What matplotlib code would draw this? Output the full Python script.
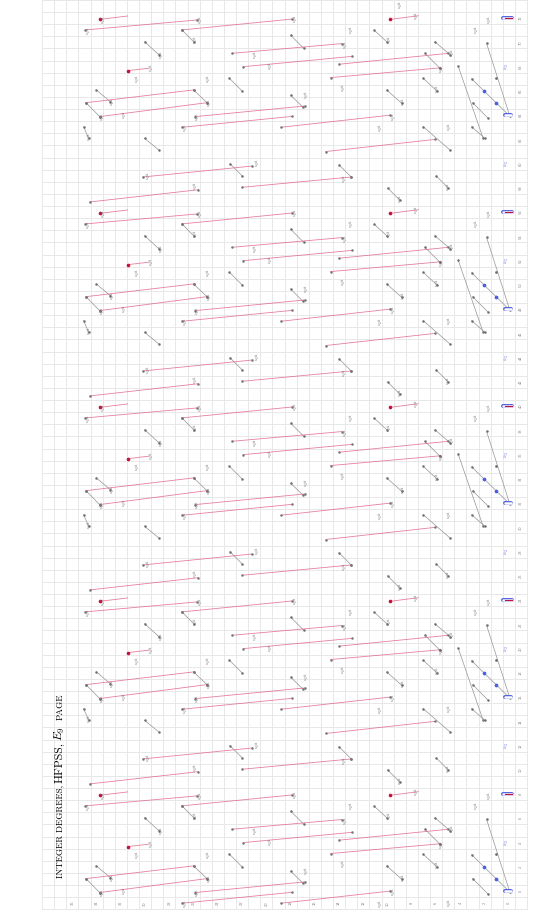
import matplotlib.pyplot as plt
import numpy as np

plt.rcParams['mathtext.fontset'] = 'cm'

# chart is drawn rotated: filtration s runs to the left, stem t-s runs upward
s_ticks = list(range(0, 37, 2))
stem_ticks = list(range(0, 73, 2))

# the picture repeats with period 16 in the stem; one block is read off,
# r = stem - base, and placed at each base stem
block_bases = [0, 16, 32, 48, 64]

# red d9 differentials in one block: (s_left, r_left, s_right, r_right)
red_d9 = [
    (34.93, 7.03, 25.73, 7.85),
    (26.96, 7.03, 17.87, 7.93),
    (22.84, 5.10, 13.80, 5.90),
    (21.90, 4.00, 12.90, 4.85),
    (34.87, 1.03, 26.00, 2.08),
    (33.75, -0.12, 24.90, 1.03),
    (25.87, -0.12, 16.80, 0.76),
    (26.96, -1.00, 17.87, -0.10),
    (14.00, 4.20, 5.00, 5.10),
    (14.70, 3.10, 5.70, 3.90),
    (18.80, -1.00, 9.80, 0.00),
    (15.10, -3.00, 6.10, -2.00),
    (34.57, 8.84, 25.60, 9.85),
    (30.20, 10.90, 21.20, 11.80),
    (22.00, 10.05, 13.00, 10.90),
]

# short red strokes, dotted at the left end
red_stub = [
    (33.75, 7.90, 31.44, 8.18),
    (31.44, 3.67, 29.71, 3.87),
    (9.80, 7.90, 7.47, 8.20),
]

# gray multiplication lines (eta, nu)
gray = [
    (30.04, 6.06, 28.87, 4.99),
    (26.96, 7.03, 26.00, 6.06),
    (23.04, 3.04, 22.00, 2.00),
    (34.02, 2.08, 32.87, 1.11),
    (34.87, 1.03, 33.75, -0.12),
    (26.00, 2.08, 24.90, 1.03),
    (35.07, -0.95, 34.66, -1.90),
    (30.04, -1.91, 28.87, -2.87),
    (18.00, 6.60, 16.90, 5.50),
    (18.00, 1.65, 16.97, 0.65),
    (11.10, 7.00, 10.07, 6.06),
    (6.10, 6.06, 4.86, 4.99),
    (6.92, 5.10, 5.68, 3.87),
    (7.06, 3.04, 5.96, 2.02),
    (10.07, 2.08, 8.84, 0.98),
    (7.06, -0.95, 4.86, -2.87),
    (4.18, 4.05, 2.12, -1.91),
    (1.84, 5.93, -0.08, -0.08),
    (3.07, 3.00, 0.00, 0.00),
    (2.99, 1.03, 1.70, -0.26),
    (3.07, -0.95, 1.98, -1.91),
    (23.00, 12.00, 22.00, 11.00),
    (14.00, 11.90, 13.00, 10.90),
    (10.00, 10.00, 9.00, 9.00),
    (6.00, 11.00, 5.00, 10.00),
]
gray_dots = [(1.05, 3.04)]
blue_dots = [(2.03, 2.02), (1.05, 1.03)]

# small class labels
labels = [
    (33.7, 7.9), (25.7, 7.85), (34.9, 7.0), (26.1, 6.25), (28.9, 5.0),
    (29.7, 3.9), (30.9, 3.0), (25.0, 3.0), (32.9, 1.1), (31.9, 0.04),
    (24.9, 1.03), (33.75, -0.12), (25.9, -0.12), (26.9, -1.0), (34.8, -1.77),
    (1.84, 7.9), (2.94, 7.03), (4.86, 5.13), (5.77, 3.87), (6.1, 2.2),
    (8.92, 1.1), (9.74, -0.07), (5.13, -0.95), (7.88, 8.2), (10.07, 6.2),
    (13.2, 7.03), (17.8, 8.0), (21.1, 5.0), (19.9, 4.06), (16.9, 1.7),
    (13.7, 5.8), (10.8, -1.0), (13.9, 2.25),
    (26.1, 10.2), (30.0, 11.0), (13.8, 10.8), (21.0, 12.1), (9.2, 9.1), (5.2, 10.1),
]

# filtration-zero classes: r of red/blue bar, blue bar, blue labels
red_blue_r = [8]
blue_bar_r = [0]
blue_label_r = [4, 12]

RED = '#e0557f'
GRAY = '#959595'
BLUE = '#4c5fe0'

fig = plt.figure(figsize=(5.58, 9.22), dpi=100)
ax = fig.add_axes([0.0753, 0.0138, 0.8692, 0.9862])

ax.set_xlim(38.5, -1.5)
ax.set_ylim(-1.5, 73.5)
ax.set_xticks(np.arange(-1.5, 39, 1))
ax.set_yticks(np.arange(-1.5, 74, 1))
ax.tick_params(length=0, labelbottom=False, labelleft=False)
ax.grid(True, color='#e8e8e8', lw=0.7)
for sp in ax.spines.values():
    sp.set_color('#e8e8e8')
    sp.set_linewidth(0.7)
ax.set_axisbelow(True)

for s in s_ticks:
    ax.text(s, -1, str(s), rotation=90, fontsize=2.6, color='#888888', ha='center', va='center')
for n in stem_ticks:
    ax.text(-1, n, str(n), rotation=90, fontsize=2.6, color='#888888', ha='center', va='center')


def inside(*stems):
    return min(stems) > -1.2 and max(stems) < 73.4


for b in block_bases:
    for s0, r0, s1, r1 in gray:
        if inside(r0 + b, r1 + b):
            ax.plot([s0, s1], [r0 + b, r1 + b], color=GRAY, lw=0.5, zorder=2)
            ax.plot([s0, s1], [r0 + b, r1 + b], 'o', color='#707070', ms=0.8, zorder=3)
    for s0, r0, s1, r1 in red_d9:
        if inside(r0 + b, r1 + b):
            ax.plot([s0, s1], [r0 + b, r1 + b], color=RED, lw=0.6, alpha=0.75, zorder=2)
            ax.plot([s0, s1], [r0 + b, r1 + b], 'o', color='#777777', ms=0.8, zorder=3)
    for s0, r0, s1, r1 in red_stub:
        if inside(r0 + b, r1 + b):
            ax.plot([s0, s1], [r0 + b, r1 + b], color=RED, lw=0.6, alpha=0.75, zorder=2)
            ax.plot(s0, r0 + b, 'o', color='#c4123f', ms=1.6, zorder=3)
    for s0, r0 in gray_dots:
        if inside(r0 + b):
            ax.plot(s0, r0 + b, 'o', color='#707070', ms=1.0, zorder=3)
    for s0, r0 in blue_dots:
        if inside(r0 + b):
            ax.plot(s0, r0 + b, 'o', color=BLUE, ms=1.7, zorder=3)
    for s0, r0 in labels:
        if inside(r0 + b):
            ax.text(s0 - 0.3, r0 + b, r'$u_{2}\bar{a}$', rotation=90, fontsize=3.4,
                    color='#666666', ha='center', va='center', zorder=4)
    for r in red_blue_r:
        if inside(r + b):
            ax.plot([0.45, -0.3], [r + b, r + b], color=BLUE, lw=2.8, solid_capstyle='round', zorder=3)
            ax.plot([0.45, -0.3], [r + b, r + b], color='white', lw=1.8, solid_capstyle='round', zorder=3)
            ax.plot([0.3, -0.3], [r + b, r + b], color='#c4123f', lw=0.8, zorder=4)
    for r in blue_bar_r:
        if inside(r + b):
            ax.plot([0.3, -0.2], [r + b, r + b], color=BLUE, lw=2.8, solid_capstyle='round', zorder=3)
            ax.plot([0.3, -0.2], [r + b, r + b], color='white', lw=1.8, solid_capstyle='round', zorder=3)
    for r in blue_label_r:
        if inside(r + b):
            ax.text(0.1, r + b, r'$\bar{a}_{2}$', rotation=90, fontsize=3.8,
                    color=BLUE, ha='center', va='center', zorder=4)

fig.text(0.1085, 0.0979, 'INTEGER DEGREES,', rotation=90, fontsize=6.6,
         family='cmr10', ha='center', va='center')
fig.text(0.1075, 0.1725, 'HFPSS,', rotation=90, fontsize=8.6,
         family='cmr10', ha='center', va='center')
fig.text(0.1075, 0.2039, r'$E_9$', rotation=90, fontsize=8.6, ha='center', va='center')
fig.text(0.1085, 0.2332, 'PAGE', rotation=90, fontsize=6.6,
         family='cmr10', ha='center', va='center')

fig.savefig('out.png', dpi=100)
